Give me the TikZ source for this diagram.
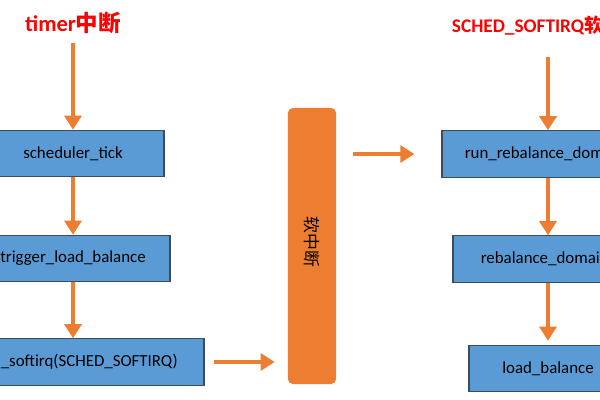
\documentclass[tikz,border=0pt]{standalone}
\usepackage{fontspec}
\setmainfont{Carlito}
\newfontfamily\cjk{Noto Sans CJK SC}
\usetikzlibrary{arrows.meta}
\definecolor{boxblue}{HTML}{5B9BD5}
\definecolor{boxline}{HTML}{3E4C5A}
\definecolor{irqorange}{HTML}{ED7D31}

\begin{document}
\begin{tikzpicture}[x=0.025cm, y=-0.025cm,
    func/.style={draw=boxline, line width=0.8pt, fill=boxblue, inner sep=0pt,
                 minimum height=1.16cm, font=\fontsize{12}{14}\selectfont},
    flow/.style={irqorange, line width=2.8pt, -{Triangle[length=10pt,width=12pt]}},
    headline/.style={text=red, font=\fontsize{14}{16}\selectfont\bfseries}]
    \useasboundingbox (0,0) rectangle (600,400);
    \clip (0,0) rectangle (600,400);

    % left: timer path
    \node (timer) [headline, font=\fontsize{16}{18}\selectfont\bfseries] at (73,23) {timer{\cjk 中断}};
    \coordinate (tstart) at (73,43);
    \node (tick) [func, minimum width=4.55cm] at (73,153.5) {scheduler\_tick};
    \node (tlb) [func, minimum width=4.85cm] at (73,258.5) {trigger\_load\_balance};
    \node (raise) [func, minimum width=6.55cm] at (73,362) {raise\_softirq(SCHED\_SOFTIRQ)};

    % middle: softirq bar
    \node (bar) [fill=irqorange, rounded corners=3.5pt, minimum width=1.2cm,
                 minimum height=6.9cm] at (312,246) {};
    \node (barlabel) [rotate=-90, font=\cjk\fontsize{12}{14}\selectfont] at (312,242) {软中断};

    % right: SCHED_SOFTIRQ path
    \node (sirq) [headline, font=\fontsize{13.7}{16}\selectfont\bfseries, anchor=west] at (447,26) {SCHED\_SOFTIRQ{\cjk 软中断}};
    \coordinate (sstart) at (548,57);
    \node (rrd) [func, minimum width=5.3cm] at (548,154) {run\_rebalance\_domains};
    \node (rd) [func, minimum width=4.75cm] at (548,259) {rebalance\_domains};
    \node (lb) [func, minimum width=3.95cm] at (548,368.5) {load\_balance};

    \draw[flow] (tstart) -- (tick.north);
    \draw[flow] (tick.south) -- (tlb.north);
    \draw[flow] (tlb.south) -- (raise.north);
    \draw[flow, shorten <=0.225cm, shorten >=0.325cm] (raise.east) -- (raise.east -| bar.west);
    \draw[flow, shorten <=0.425cm, shorten >=0.675cm] (bar.east |- rrd.west) -- (rrd.west);
    \draw[flow] (sstart) -- (rrd.north);
    \draw[flow] (rrd.south) -- (rd.north);
    \draw[flow, shorten >=0.1cm] (rd.south) -- (lb.north);
\end{tikzpicture}
\end{document}
